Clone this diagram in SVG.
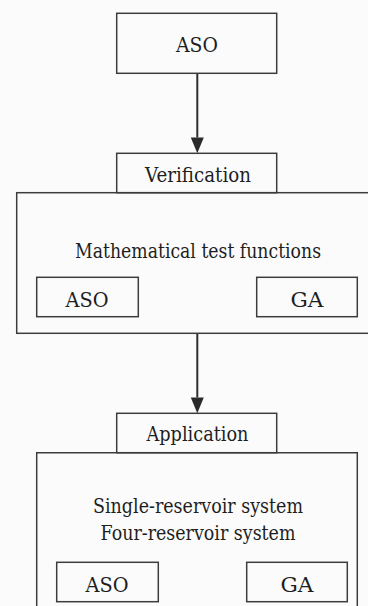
<svg xmlns="http://www.w3.org/2000/svg" width="368" height="606" viewBox="0 0 368 606">
<style>
.box{fill:none;stroke:#3c3c3c;stroke-width:1.5}
text{font-family:'DejaVu Serif','Liberation Serif','Noto Serif',serif;font-size:20px;fill:#1e1e1e;text-anchor:middle}
.ln{stroke:#2e2e2e;stroke-width:2;fill:none}
.ah{fill:#2a2a2a}
</style>
<rect width="368" height="606" fill="#fbfbfb"/>
<g id="connectors">
<line class="ln" x1="197.3" y1="73.3" x2="197.3" y2="137.5"/>
<path class="ah" d="M190.8,137.5 L203.8,137.5 L197.3,153.3 Z"/>
<line class="ln" x1="197.3" y1="333.3" x2="197.3" y2="397.5"/>
<path class="ah" d="M190.8,397.5 L203.8,397.5 L197.3,413.3 Z"/>
</g>
<g id="aso-top">
<rect class="box" x="116.7" y="13.3" width="160" height="60"/>
<text x="197" y="51.7" textLength="42" lengthAdjust="spacingAndGlyphs">ASO</text>
</g>
<g id="verification">
<rect class="box" x="116.7" y="153.3" width="160" height="39.4"/>
<text x="198" y="181.7" textLength="106" lengthAdjust="spacingAndGlyphs">Verification</text>
</g>
<g id="math-box">
<rect class="box" x="16.7" y="192.7" width="364" height="140.6"/>
<text x="198" y="258" textLength="246" lengthAdjust="spacingAndGlyphs">Mathematical test functions</text>
</g>
<g id="aso-1">
<rect class="box" x="36.7" y="277.3" width="101.6" height="39.4"/>
<text x="87" y="306.7" textLength="43" lengthAdjust="spacingAndGlyphs">ASO</text>
</g>
<g id="ga-1">
<rect class="box" x="256.7" y="277.3" width="100.6" height="39.4"/>
<text x="307" y="306.7" textLength="33" lengthAdjust="spacingAndGlyphs">GA</text>
</g>
<g id="application">
<rect class="box" x="116.7" y="413.3" width="160" height="39.4"/>
<text x="197.5" y="440.5" textLength="102" lengthAdjust="spacingAndGlyphs">Application</text>
</g>
<g id="reservoir-box">
<path class="box" d="M36.7,612 L36.7,452.7 L357.3,452.7 L357.3,612"/>
<text x="198" y="513" textLength="210" lengthAdjust="spacingAndGlyphs">Single-reservoir system</text>
<text x="198" y="540" textLength="195" lengthAdjust="spacingAndGlyphs">Four-reservoir system</text>
</g>
<g id="aso-2">
<rect class="box" x="56.7" y="562.3" width="101.6" height="39.4"/>
<text x="107" y="591.7" textLength="43" lengthAdjust="spacingAndGlyphs">ASO</text>
</g>
<g id="ga-2">
<rect class="box" x="246.7" y="562.3" width="100.6" height="39.4"/>
<text x="297" y="591.7" textLength="33" lengthAdjust="spacingAndGlyphs">GA</text>
</g>
</svg>
